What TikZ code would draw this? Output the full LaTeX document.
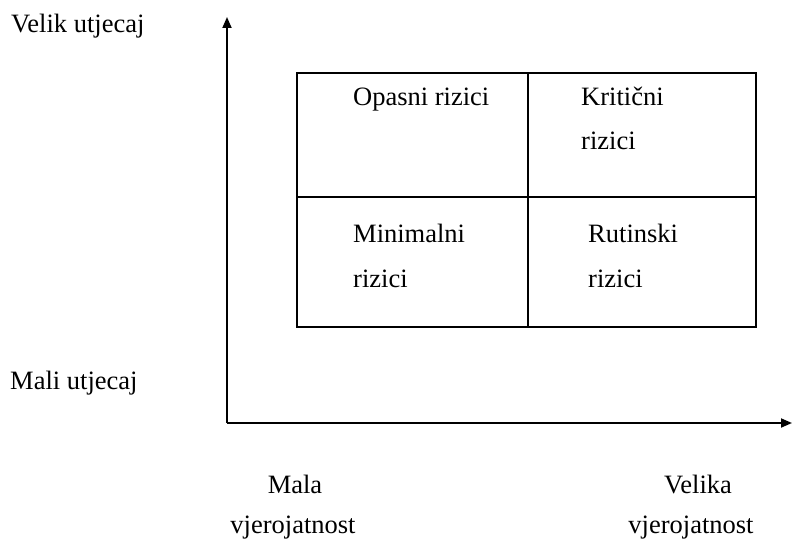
\documentclass[tikz,border=0pt]{standalone}
\usepackage{fontspec}
\setmainfont{Liberation Serif}
\usetikzlibrary{arrows.meta}
\begin{document}
\begin{tikzpicture}[x=1pt,y=-1pt,
  lbl/.style={anchor=base west,inner sep=0pt,font=\fontsize{26.5}{30}\selectfont},
  clbl/.style={anchor=base,inner sep=0pt,font=\fontsize{26.5}{30}\selectfont},
  axis/.style={line width=1.8pt,-{Triangle[length=11pt,width=9pt]}},
  grid/.style={line width=1.8pt}]
\useasboundingbox (0,0) rectangle (792,543);
\fill[white] (0,0) rectangle (792,543);
% axes
\coordinate (o) at (227,423);
\coordinate (ytip) at (227,17);
\coordinate (xtip) at (792,423);
\draw[axis] (o) -- (ytip);
\draw[axis] (o) -- (xtip);
% matrix
\coordinate (tl) at (297,73);
\coordinate (br) at (756,327);
\coordinate (mt) at (528,73);
\coordinate (mb) at (528,327);
\coordinate (ml) at (297,197);
\coordinate (mr) at (756,197);
\draw[grid] (tl) rectangle (br);
\draw[grid] (mt) -- (mb);
\draw[grid] (ml) -- (mr);
% cell labels
\node[lbl] (opasni) at (353,105) {Opasni rizici};
\node[lbl] (krit1) at (581,105) {Kritični};
\node[lbl] (krit2) at (581,149) {rizici};
\node[lbl] (min1) at (353,242) {Minimalni};
\node[lbl] (min2) at (353,287) {rizici};
\node[lbl] (rut1) at (588,242) {Rutinski};
\node[lbl] (rut2) at (588,287) {rizici};
% axis labels
\node[lbl] (velik) at (11,33) {Velik utjecaj};
\node[lbl] (mali) at (10,389) {Mali utjecaj};
\node[clbl] (mala) at (295,493) {Mala};
\node[clbl] (malav) at (293,533) {vjerojatnost};
\node[clbl] (velika) at (698,493) {Velika};
\node[clbl] (velikav) at (691,533) {vjerojatnost};
\end{tikzpicture}
\end{document}
